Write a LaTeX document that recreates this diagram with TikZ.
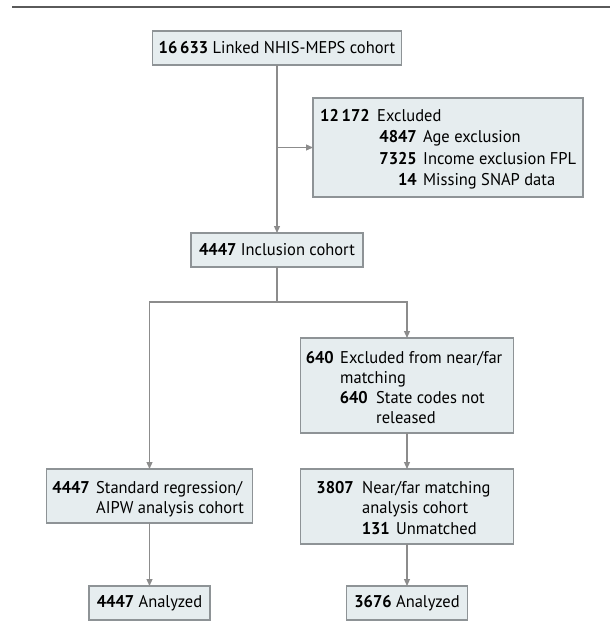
\documentclass[tikz,border=0pt]{standalone}
\usepackage{fontspec}
\setmainfont{PT Sans}[FakeStretch=0.97]
\usetikzlibrary{arrows.meta}
\definecolor{boxfill}{HTML}{E6EDEF}
\definecolor{boxline}{HTML}{8E9396}
\definecolor{linegray}{HTML}{8C8C8C}
\definecolor{rulegray}{HTML}{5A5A5A}
\begin{document}
\begin{tikzpicture}[x=1pt,y=-1pt,
  box/.style={draw=boxline, fill=boxfill, line width=1.2pt, inner sep=0pt, outer sep=0pt,
    font=\fontsize{17}{20}\selectfont},
  txt/.style={anchor=base west, inner sep=0pt, font=\fontsize{17}{20}\selectfont},
  num/.style={anchor=base east, inner sep=0pt, font=\fontsize{17}{20}\selectfont\bfseries},
  link/.style={draw=linegray, line width=1.2pt},
  arr/.style={link, -{Triangle[length=7pt,width=6pt]}},
]
\useasboundingbox (0,0) rectangle (610,641);
\draw[rulegray, line width=2pt] (12,7) -- (610,7);

% boxes
\node[box, minimum width=249pt, minimum height=34pt] (b1) at (277,48)
  {\textbf{16\,633} Linked NHIS-MEPS cohort};
\node[box, minimum width=270pt, minimum height=99pt] (excl) at (448,147.5) {};
\node[box, minimum width=172pt, minimum height=34pt] (incl) at (277,250)
  {\textbf{4447} Inclusion cohort};
\node[box, minimum width=213pt, minimum height=95pt] (ex2) at (407,385.5) {};
\node[box, minimum width=206pt, minimum height=54pt] (std) at (149.5,496) {};
\node[box, minimum width=213pt, minimum height=75pt] (nf) at (407,506.5) {};
\node[box, minimum width=121pt, minimum height=34pt] (anL) at (149.5,603)
  {\textbf{4447} Analyzed};
\node[box, minimum width=121pt, minimum height=34pt] (anR) at (407,603)
  {\textbf{3676} Analyzed};

% texts of excluded box
\node[num] (n1) at (370,121) {12\,172};
\node[txt] (t1) at (377,121) {Excluded};
\node[num] (n2) at (417,142.5) {4847};
\node[txt] (t2) at (423,142.5) {Age exclusion};
\node[num] (n3) at (417,164) {7325};
\node[txt] (t3) at (423,164) {Income exclusion FPL};
\node[num] (n4) at (417,185.5) {14};
\node[txt] (t4) at (423,185.5) {Missing SNAP data};

% texts of near/far exclusion box
\node[num] (n5) at (334,363) {640};
\node[txt] (t5) at (340,363) {Excluded from near/far};
\node[txt] (t6) at (340,383) {matching};
\node[num] (n7) at (368,403) {640};
\node[txt] (t7) at (376,403) {State codes not};
\node[txt] (t8) at (376,423) {released};

% texts of standard box
\node[num] (n9) at (90,493) {4447};
\node[txt] (t9) at (96,493) {Standard regression/};
\node[txt] (t10) at (96,513) {AIPW analysis cohort};

% texts of near/far box
\node[num] (n11) at (354,493) {3807};
\node[txt] (t11) at (362,493) {Near/far matching};
\node[txt] (t12) at (362,513) {analysis cohort};
\node[num] (n13) at (390,534) {131};
\node[txt] (t13) at (396,534) {Unmatched};

% connectors
\draw[arr] (b1.south) -- (incl.north);
\draw[arr] (b1.south |- excl.west) -- (excl.west);
\draw[link] (incl.south) -- ++(0,35) coordinate (split);
\draw[arr] (split) -| (ex2.north);
\draw[arr] (split) -| (std.north);
\draw[arr] (ex2.south) -- (nf.north);
\draw[arr] (std.south) -- (anL.north);
\draw[arr] (nf.south) -- (anR.north);
\end{tikzpicture}
\end{document}
